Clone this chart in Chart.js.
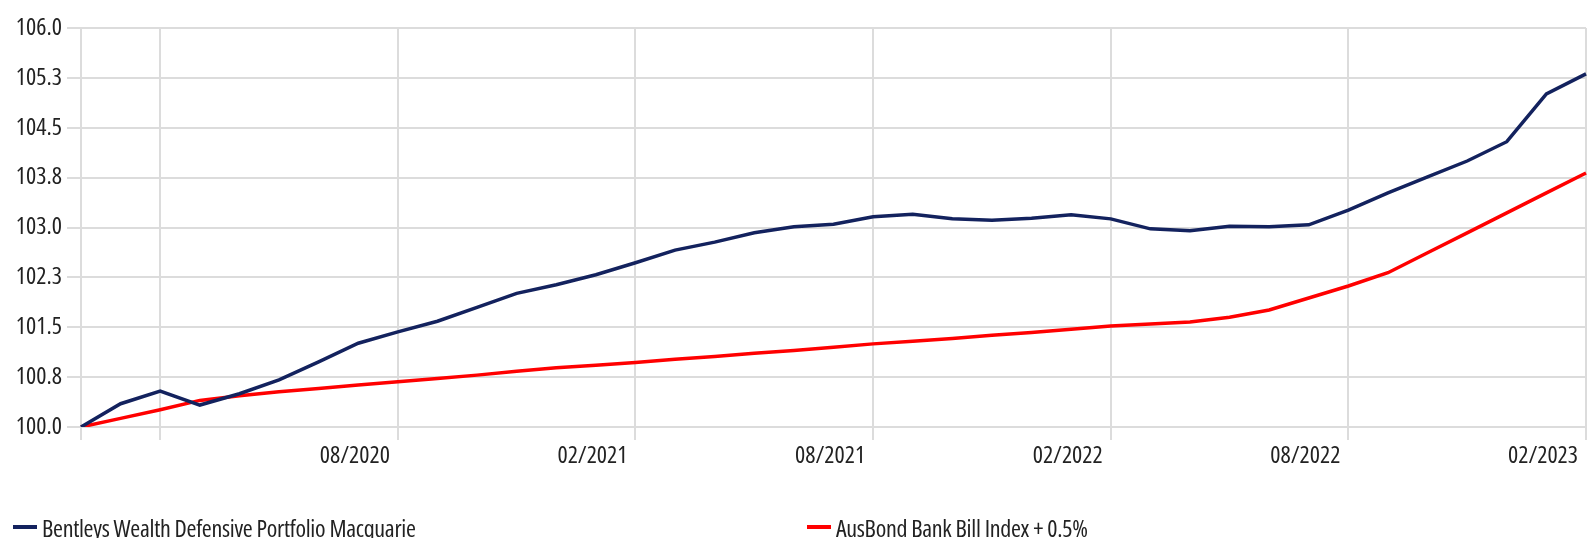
<!DOCTYPE html>
<html lang="en">
<head>
  <meta charset="UTF-8" />
  <title>Bentleys Wealth Defensive Portfolio</title>
  <script src="https://cdn.jsdelivr.net/npm/chart.js"></script>
  <style>
    html, body {
      margin: 0;
      padding: 0;
      background: #fff;
      overflow: hidden;
    }
    .wrap {
      position: relative;
      width: 1588px;
      height: 538px;
    }
    .legend {
      position: absolute;
      left: 0;
      top: 516px;
      width: 1588px;
      display: flex;
      font-family: "Open Sans", sans-serif;
      font-stretch: 75%;
      font-size: 24px;
      line-height: 24px;
      letter-spacing: -0.3px;
      color: #222;
    }
    .legend-item {
      width: 796px;
      padding-left: 13px;
      display: flex;
      align-items: center;
      white-space: nowrap;
    }
    .swatch {
      display: inline-block;
      width: 24px;
      height: 4px;
      margin-right: 5px;
      position: relative;
      top: -1px;
    }
  </style>
</head>
<body>
  <div class="wrap">
    <canvas id="perfChart" width="1588" height="538"></canvas>
    <div class="legend" id="legend"></div>
  </div>

  <script>
    // months, 12/2019 -> 02/2023
    const months = [
      '12/2019', '01/2020', '02/2020', '03/2020', '04/2020', '05/2020', '06/2020', '07/2020',
      '08/2020', '09/2020', '10/2020', '11/2020', '12/2020', '01/2021', '02/2021', '03/2021',
      '04/2021', '05/2021', '06/2021', '07/2021', '08/2021', '09/2021', '10/2021', '11/2021',
      '12/2021', '01/2022', '02/2022', '03/2022', '04/2022', '05/2022', '06/2022', '07/2022',
      '08/2022', '09/2022', '10/2022', '11/2022', '12/2022', '01/2023', '02/2023'
    ];
    const labelMonths = ['08/2020', '02/2021', '08/2021', '02/2022', '08/2022', '02/2023'];
    const gridMonths = ['12/2019', '02/2020', '08/2020', '02/2021', '08/2021', '02/2022', '08/2022', '02/2023'];
    const yTicks = [100, 100.75, 101.5, 102.25, 103, 103.75, 104.5, 105.25, 106];

    const portfolioName = 'Bentleys Wealth Defensive Portfolio Macquarie';
    const portfolio = [
      100.00, 100.35, 100.54, 100.33, 100.50, 100.71, 100.98, 101.26,
      101.43, 101.59, 101.80, 102.01, 102.14, 102.29, 102.47, 102.66,
      102.78, 102.92, 103.01, 103.05, 103.16, 103.20, 103.13, 103.11,
      103.14, 103.19, 103.13, 102.98, 102.95, 103.02, 103.01, 103.04,
      103.26, 103.52, 103.76, 104.00, 104.29, 105.01, 105.31
    ];
    const benchmarkName = 'AusBond Bank Bill Index + 0.5%';
    const benchmark = [
      100.00, 100.13, 100.26, 100.40, 100.47, 100.53, 100.58, 100.63,
      100.68, 100.73, 100.78, 100.84, 100.89, 100.93, 100.97, 101.02,
      101.06, 101.11, 101.15, 101.20, 101.25, 101.29, 101.33, 101.38,
      101.42, 101.47, 101.52, 101.55, 101.58, 101.65, 101.76, 101.94,
      102.12, 102.32, 102.62, 102.92, 103.22, 103.52, 103.82
    ];

    // condensed Open Sans (variable width axis) stands in for the narrow font
    const tickFont = { family: '"Open Sans", sans-serif', size: 24, weight: 'condensed' };
    const GRID = '#dcdcdc';

    const ctx = document.getElementById('perfChart').getContext('2d');
    const chart = new Chart(ctx, {
      type: 'line',
      data: {
        labels: months,
        datasets: [
          {
            label: portfolioName,
            data: portfolio,
            borderColor: '#13225e',
            backgroundColor: '#13225e',
            borderWidth: 3.5,
            pointRadius: 0,
            tension: 0
          },
          {
            label: benchmarkName,
            data: benchmark,
            borderColor: '#ff0000',
            backgroundColor: '#ff0000',
            borderWidth: 3.5,
            pointRadius: 0,
            tension: 0
          }
        ]
      },
      options: {
        responsive: false,
        animation: false,
        layout: { padding: { top: 28, left: 0, right: 0, bottom: 0 } },
        plugins: {
          legend: { display: false },
          tooltip: { enabled: false }
        },
        scales: {
          x: {
            offset: false,
            grid: {
              color: (c) => gridMonths.includes(months[c.index]) ? GRID : 'rgba(0,0,0,0)',
              lineWidth: 2,
              tickLength: 13
            },
            border: { display: false },
            ticks: {
              autoSkip: false,
              maxRotation: 0,
              align: 'end',
              labelOffset: -8,
              padding: 2,
              color: '#222',
              font: tickFont,
              callback: (v, i) => labelMonths.includes(months[i]) ? months[i] : ''
            },
            afterFit: (s) => { s.height = 111; }
          },
          y: {
            min: 100,
            max: 106,
            afterBuildTicks: (s) => { s.ticks = yTicks.map(v => ({ value: v })); },
            grid: { color: GRID, lineWidth: 2, tickLength: 14 },
            border: { display: false },
            ticks: {
              padding: 5,
              color: '#222',
              font: tickFont,
              callback: (v) => (Math.round(v * 10) / 10).toFixed(1)
            },
            afterFit: (s) => { s.width = 81; }
          }
        }
      }
    });

    // legend in two columns under the chart
    const legend = document.getElementById('legend');
    chart.data.datasets.forEach(ds => {
      const item = document.createElement('div');
      item.className = 'legend-item';
      const sw = document.createElement('span');
      sw.className = 'swatch';
      sw.style.background = ds.borderColor;
      item.appendChild(sw);
      item.appendChild(document.createTextNode(ds.label));
      legend.appendChild(item);
    });
  </script>
</body>
</html>
